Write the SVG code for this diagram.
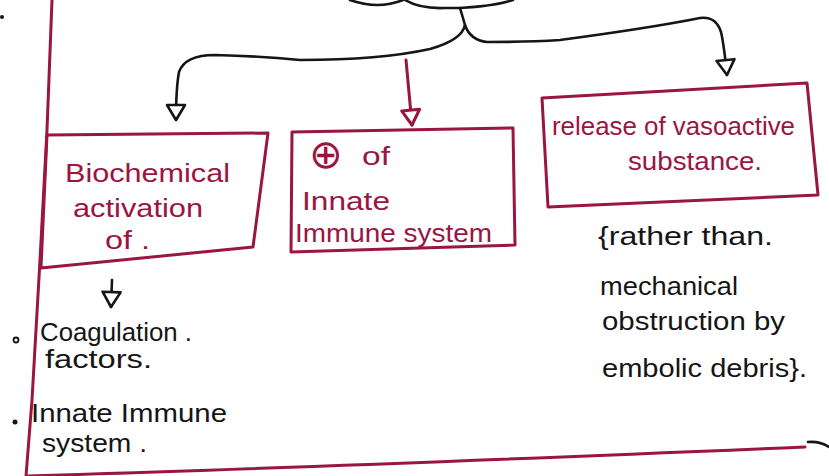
<svg xmlns="http://www.w3.org/2000/svg" width="829" height="476" viewBox="0 0 829 476">
<style>
.ink{fill:none;stroke:#151515;stroke-width:2.6;stroke-linecap:round;stroke-linejoin:round}
.red{fill:none;stroke:#9b1542;stroke-width:3;stroke-linecap:round;stroke-linejoin:round}
.t{font-family:"Liberation Sans",Arial,sans-serif;font-size:26px}
.tr{fill:#9b1542}
.tb{fill:#151515}
</style>
<defs>
<marker id="ahb" markerUnits="userSpaceOnUse" viewBox="-3 -12 22 24" markerWidth="22" markerHeight="24" refX="16" refY="0" orient="auto">
<path d="M1,-9 L16,0 L1,9 Z" fill="#fff" stroke="#151515" stroke-width="2.6" stroke-linejoin="round"/>
</marker>
<marker id="ahr" markerUnits="userSpaceOnUse" viewBox="-3 -12 22 24" markerWidth="22" markerHeight="24" refX="16" refY="0" orient="auto">
<path d="M1,-9 L16,0 L1,9 Z" fill="#fff" stroke="#9b1542" stroke-width="3" stroke-linejoin="round"/>
</marker>
</defs>
<rect width="829" height="476" fill="#fff"/>

<g id="page">
<path class="red" d="M52,0 L47,130 L40,260 L32,400 L26,476"/>
<path class="red" d="M28,476 Q300,468 805,447"/>
<path class="ink" d="M808,442 Q820,441 829,447"/>
<circle cx="2" cy="17" r="2" fill="#151515"/>
</g>

<g id="connectors">
<path class="ink" d="M350,0 Q378,10 403,0"/>
<path class="ink" d="M405,0 Q420,9 445,8 L460,8 Q495,6 513,0"/>
<path class="ink" d="M460,8 Q463,18 465,25 Q462,40 430,49 Q380,60 300,60 Q260,56 215,55 Q185,55 179,72 Q176,88 176,120" marker-end="url(#ahb)"/>
<path class="ink" d="M465,25 Q470,40 487,42 Q530,42 560,40 Q650,28 700,18 Q716,16 721,32 Q724,45 727,75" marker-end="url(#ahb)"/>
<path class="red" d="M406,60 L412,125" marker-end="url(#ahr)"/>
<path class="ink" d="M112,280 L111,307" marker-end="url(#ahb)"/>
</g>

<g id="node-biochemical">
<path class="red" d="M47,135 L268,133 L253,247 L41,268 Z"/>
<text class="t tr" x="65" y="182" font-size="32" textLength="165" lengthAdjust="spacingAndGlyphs">Biochemical</text>
<text class="t tr" x="73" y="217" font-size="29" textLength="130" lengthAdjust="spacingAndGlyphs">activation</text>
<text class="t tr" x="105" y="249" font-size="27" textLength="45" lengthAdjust="spacingAndGlyphs">of .</text>
</g>

<g id="node-innate">
<path class="red" d="M292,132 L513,128 L515,245 L291,252 Z"/>
<text class="tr" x="309" y="168" font-family="DejaVu Sans, sans-serif" font-size="40">⊕</text>
<text class="t tr" x="362" y="165" font-size="30" textLength="28" lengthAdjust="spacingAndGlyphs">of</text>
<text class="t tr" x="302" y="210" textLength="88" lengthAdjust="spacingAndGlyphs">Innate</text>
<text class="t tr" x="295" y="242" font-size="27" textLength="197" lengthAdjust="spacingAndGlyphs">Immune system</text>
</g>

<g id="node-vasoactive">
<path class="red" d="M542,98 L807,83 L818,195 L548,207 Z"/>
<text class="t tr" x="552" y="135" textLength="243" lengthAdjust="spacingAndGlyphs">release of vasoactive</text>
<text class="t tr" x="628" y="170" textLength="134" lengthAdjust="spacingAndGlyphs">substance.</text>
</g>

<g id="node-note">
<text class="t tb" x="598" y="245" textLength="175" lengthAdjust="spacingAndGlyphs">{rather than.</text>
<text class="t tb" x="600" y="295" textLength="138" lengthAdjust="spacingAndGlyphs">mechanical</text>
<text class="t tb" x="602" y="330" textLength="183" lengthAdjust="spacingAndGlyphs">obstruction by</text>
<text class="t tb" x="602" y="377" textLength="205" lengthAdjust="spacingAndGlyphs">embolic debris}.</text>
</g>

<g id="node-list">
<circle cx="16" cy="340" r="2.5" fill="none" stroke="#151515" stroke-width="1.8"/>
<text class="t tb" x="40" y="341" font-size="23" textLength="152" lengthAdjust="spacingAndGlyphs">Coagulation .</text>
<text class="t tb" x="45" y="368" font-size="23" textLength="107" lengthAdjust="spacingAndGlyphs">factors.</text>
<circle cx="15" cy="422" r="2.5" fill="#151515"/>
<text class="t tb" x="31" y="422" font-size="25" textLength="196" lengthAdjust="spacingAndGlyphs">Innate Immune</text>
<text class="t tb" x="42" y="452" font-size="25" textLength="105" lengthAdjust="spacingAndGlyphs">system .</text>
</g>
</svg>
